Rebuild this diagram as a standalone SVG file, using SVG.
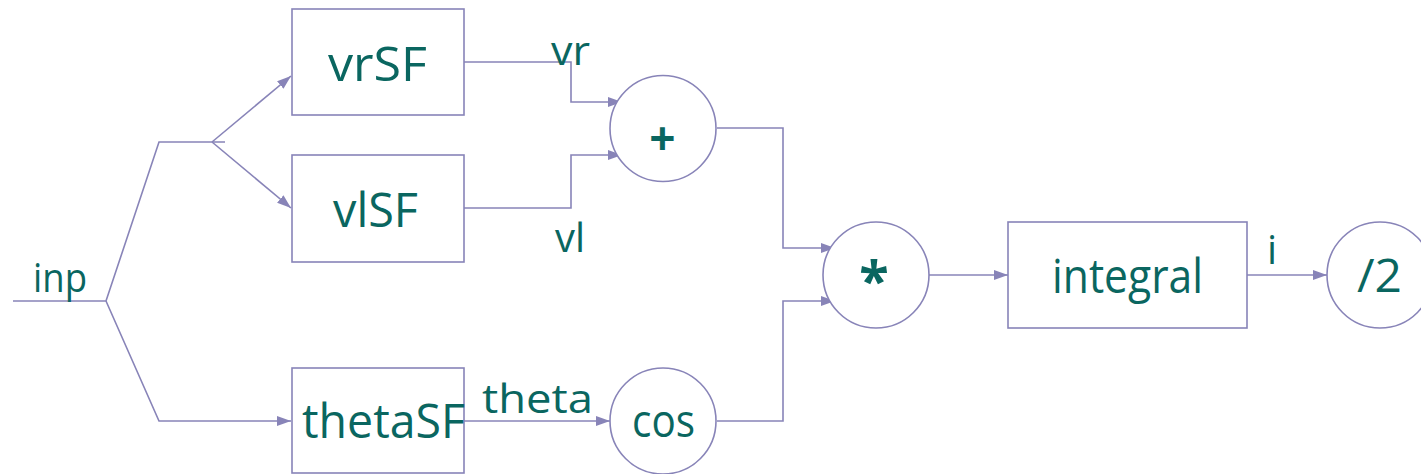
<svg xmlns="http://www.w3.org/2000/svg" width="1421" height="474" viewBox="0 0 1421 474">
  <style>
    .box { fill: #ffffff; stroke: #8884b8; stroke-width: 1.6; }
    .wire { fill: none; stroke: #8884b8; stroke-width: 1.6; }
    .arrow { marker-end: url(#head); }
    .t { font-family: "Open Sans", "DejaVu Sans", sans-serif; fill: #0a6660; }
    .big { font-size: 48px; }
    .lbl { font-size: 40px; }
  </style>
  <defs>
    <marker id="head" viewBox="0 0 14 10" refX="14" refY="5" markerWidth="14" markerHeight="10" markerUnits="userSpaceOnUse" orient="auto">
      <path d="M0,0 L14,5 L0,10 z" fill="#8884b8"/>
    </marker>
  </defs>

  <rect width="1421" height="474" fill="#ffffff"/>

  <!-- connectors -->
  <g id="connectors">
    <path class="wire" d="M13,301 H106 L159,142 H225"/>
    <path class="wire arrow" d="M106,301 L159,421 H291"/>
    <path class="wire arrow" d="M212,142 L291,76"/>
    <path class="wire arrow" d="M212,142 L291,208"/>
    <path class="wire arrow" d="M464,62 H571 V102 H622"/>
    <path class="wire arrow" d="M464,208 H571 V155 H622"/>
    <path class="wire arrow" d="M717,128 H783 V248 H835"/>
    <path class="wire arrow" d="M717,421 H783 V301 H835"/>
    <path class="wire arrow" d="M464,421 H610"/>
    <path class="wire arrow" d="M929,275 H1008"/>
    <path class="wire arrow" d="M1247,275 H1327"/>
  </g>

  <!-- signal labels -->
  <g id="labels">
    <text class="t lbl" x="33" y="292" textLength="54" lengthAdjust="spacingAndGlyphs">inp</text>
    <text class="t lbl" x="551" y="65" textLength="39" lengthAdjust="spacingAndGlyphs">vr</text>
    <text class="t lbl" x="555" y="252" font-size="42" textLength="30" lengthAdjust="spacingAndGlyphs">vl</text>
    <text class="t lbl" x="482" y="413" font-size="42" textLength="111" lengthAdjust="spacingAndGlyphs">theta</text>
    <text class="t lbl" x="1267" y="264">i</text>
  </g>

  <g id="vrSF">
    <rect class="box" x="292" y="9" width="172" height="106"/>
    <text class="t big" x="328" y="81" textLength="99" lengthAdjust="spacingAndGlyphs">vrSF</text>
  </g>

  <g id="vlSF">
    <rect class="box" x="292" y="155" width="172" height="107"/>
    <text class="t big" x="333" y="227" textLength="85" lengthAdjust="spacingAndGlyphs">vlSF</text>
  </g>

  <g id="thetaSF">
    <rect class="box" x="292" y="368" width="172" height="105"/>
    <text class="t big" x="302" y="438" textLength="163" lengthAdjust="spacingAndGlyphs">thetaSF</text>
  </g>

  <g id="plus">
    <circle class="box" cx="663" cy="128.5" r="53"/>
    <text class="t" x="662.5" y="155" font-size="46" font-weight="bold" text-anchor="middle">+</text>
  </g>

  <g id="cos">
    <circle class="box" cx="663" cy="421" r="53"/>
    <text class="t" x="632" y="437" font-size="46" textLength="63" lengthAdjust="spacingAndGlyphs">cos</text>
  </g>

  <g id="times">
    <circle class="box" cx="876" cy="275" r="53"/>
    <text class="t" x="874" y="300" font-size="54" font-weight="bold" text-anchor="middle">*</text>
  </g>

  <g id="integral">
    <rect class="box" x="1008" y="222" width="239" height="106"/>
    <text class="t big" x="1052" y="293" textLength="151" lengthAdjust="spacingAndGlyphs">integral</text>
  </g>

  <g id="half">
    <circle class="box" cx="1380" cy="275" r="53"/>
    <text class="t" x="1357" y="292" font-size="45" textLength="45" lengthAdjust="spacingAndGlyphs">/2</text>
  </g>
</svg>
